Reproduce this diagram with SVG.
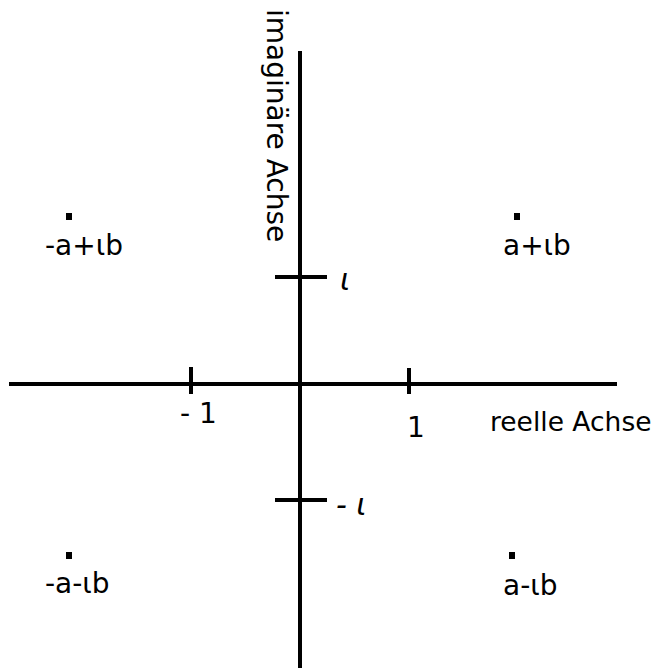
<svg xmlns="http://www.w3.org/2000/svg" width="659" height="668" viewBox="0 0 659 668">
<style>
.ax{stroke:#000;stroke-width:4;fill:none}
text{font-family:"DejaVu Sans","Noto Sans",sans-serif;font-size:28px;fill:#000}
.it{font-style:italic;font-size:30px}
.pt{fill:#000}
</style>
<rect width="659" height="668" fill="#fff"/>
<g id="connectors">
<line class="ax" x1="300" y1="51" x2="300" y2="668"/>
<line class="ax" x1="9" y1="384" x2="617" y2="384"/>
<line class="ax" x1="191" y1="367" x2="191" y2="394"/>
<line class="ax" x1="409" y1="368" x2="409" y2="394"/>
<line class="ax" x1="275" y1="277" x2="327" y2="277"/>
<line class="ax" x1="275" y1="500" x2="327" y2="500"/>
</g>
<g id="axis-labels">
<text x="0" y="0" transform="translate(267,9) rotate(90)">imaginäre Achse</text>
<text x="490" y="431" style="font-size:26.5px">reelle Achse</text>
</g>
<g id="ticks">
<text x="180" y="423">- 1</text>
<text x="407" y="437">1</text>
<text class="it" x="340" y="290">ι</text>
<text class="it" x="336" y="515">- ι</text>
</g>
<g id="p1"><rect class="pt" x="66" y="213" width="6" height="7"/><text x="45" y="255">-a+ιb</text></g>
<g id="p2"><rect class="pt" x="514" y="213" width="6" height="7"/><text x="503" y="255">a+ιb</text></g>
<g id="p3"><rect class="pt" x="66" y="552" width="6" height="7"/><text x="45" y="593">-a-ιb</text></g>
<g id="p4"><rect class="pt" x="509" y="552" width="6" height="7"/><text x="503" y="595">a-ιb</text></g>
</svg>
